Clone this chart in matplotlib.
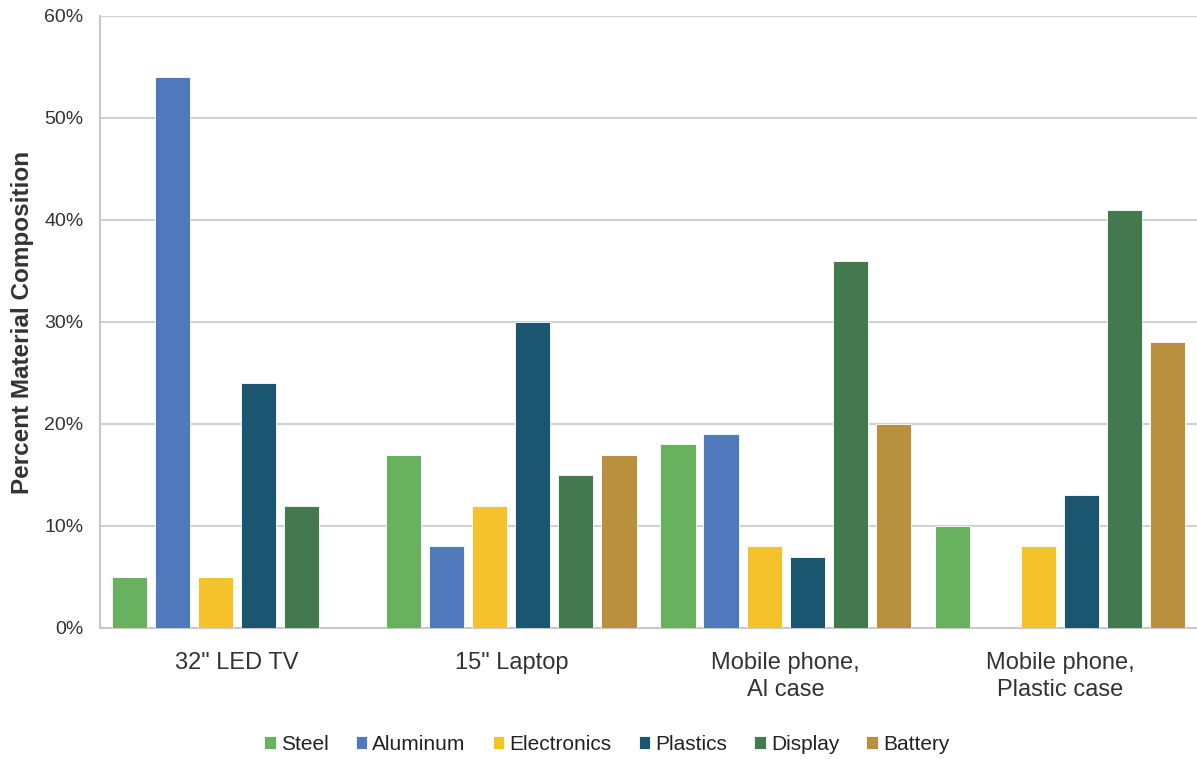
import matplotlib.pyplot as plt
import numpy as np

plt.rcParams['font.family'] = ['Liberation Sans', 'DejaVu Sans']

categories = ['32" LED TV', '15" Laptop', 'Mobile phone,\nAl case', 'Mobile phone,\nPlastic case']
materials = ['Steel', 'Aluminum', 'Electronics', 'Plastics', 'Display', 'Battery']
steel = [5, 17, 18, 10]
aluminum = [54, 8, 19, 0]
electronics = [5, 12, 8, 8]
plastics = [24, 30, 7, 13]
display = [12, 15, 36, 41]
battery = [0, 17, 20, 28]
colors = ['#68b25f', '#5079bd', '#f5c22b', '#1b5670', '#44784f', '#b9913e']

series = [steel, aluminum, electronics, plastics, display, battery]

fig = plt.figure(figsize=(11.97, 7.59), dpi=100)
ax = fig.add_axes([0.0835, 0.1726, 0.9165, 0.8064])

x = np.arange(len(categories))
slot = 0.157
width = 0.128
for i, (name, vals) in enumerate(zip(materials, series)):
    offs = (i - 2.5) * slot
    ax.bar(x + offs, vals, width, color=colors[i], label=name,
           edgecolor='white', linewidth=0.6, zorder=3)

ax.set_xlim(-0.5, len(categories) - 0.5)
ax.set_ylim(0, 60)
ax.set_yticks(np.arange(0, 61, 10))
ax.set_yticklabels([f'{v}%' for v in range(0, 61, 10)])
ax.set_xticks(x)
ax.set_xticklabels(categories, linespacing=1.3)
ax.tick_params(axis='both', length=0, colors='#333333')
ax.tick_params(axis='y', labelsize=14, pad=12)
ax.tick_params(axis='x', labelsize=17, pad=17)
ax.grid(axis='y', color='#d0d0d0', linewidth=1.5, zorder=0)
for s in ['top', 'right']:
    ax.spines[s].set_visible(False)
for s in ['left', 'bottom']:
    ax.spines[s].set_color('#c8c8c8')
    ax.spines[s].set_linewidth(1.5)
ax.set_ylabel('Percent Material Composition', fontsize=17.5, fontweight='bold',
              color='#333333', labelpad=7)

ax.legend(loc='center', bbox_to_anchor=(0.462, -0.19), ncol=6, frameon=False,
          fontsize=15, handlelength=0.55, handleheight=0.55, handletextpad=0.25,
          columnspacing=1.3, labelcolor='#222222')

plt.savefig('out.png', dpi=100)
